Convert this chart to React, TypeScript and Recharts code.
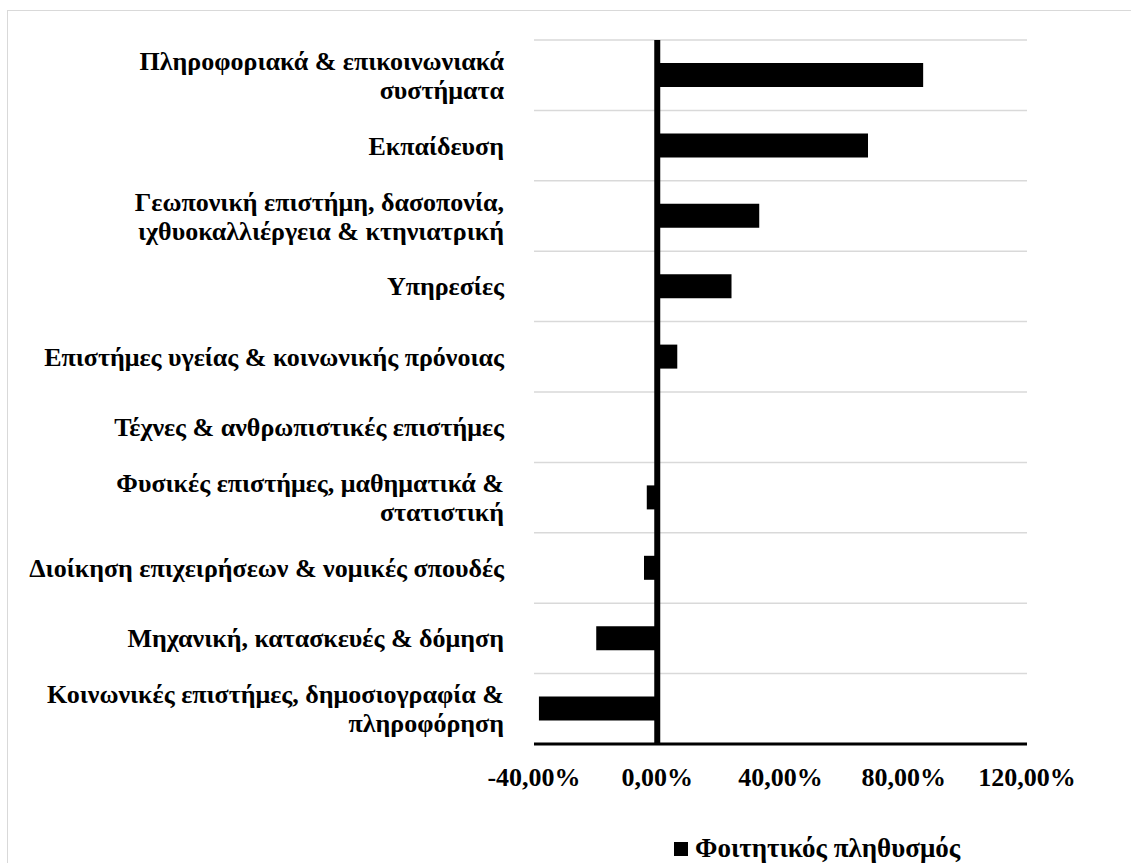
import { BarChart, Bar, XAxis, YAxis, CartesianGrid, ReferenceLine, Legend } from 'recharts';

// Fields of study (top to bottom), with the line breaks used in the chart
const fields = [
  'Πληροφοριακά & επικοινωνιακά\nσυστήματα',
  'Εκπαίδευση',
  'Γεωπονική επιστήμη, δασοπονία,\nιχθυοκαλλιέργεια & κτηνιατρική',
  'Υπηρεσίες',
  'Επιστήμες υγείας & κοινωνικής πρόνοιας',
  'Τέχνες & ανθρωπιστικές επιστήμες',
  'Φυσικές επιστήμες, μαθηματικά &\nστατιστική',
  'Διοίκηση επιχειρήσεων & νομικές σπουδές',
  'Μηχανική, κατασκευές & δόμηση',
  'Κοινωνικές επιστήμες, δημοσιογραφία &\nπληροφόρηση',
];

// Change in student population (%)
const studentChange = [86.3, 68.4, 33.1, 24.1, 6.5, 0, -3.4, -4.3, -19.8, -38.4];

const xTicks = [-40, 0, 40, 80, 120];

const seriesName = 'Φοιτητικός πληθυσμός';

const data = fields.map((field, i) => ({ field, value: studentChange[i] }));

const FONT = '"Liberation Serif", "Times New Roman", serif';

const fmtPct = (v: number) => v.toFixed(2).replace('.', ',') + '%';

const CategoryTick = ({ x, y, payload }: any) => {
  const lines = String(payload.value).split('\n');
  const lh = 29;
  const startY = y - ((lines.length - 1) * lh) / 2;
  return (
    <text
      x={x - 22}
      y={startY}
      textAnchor="end"
      dominantBaseline="central"
      fontFamily={FONT}
      fontWeight="bold"
      fontSize={26}
      fill="#000"
    >
      {lines.map((l, i) => (
        <tspan key={i} x={x - 22} dy={i === 0 ? 0 : lh}>
          {l}
        </tspan>
      ))}
    </text>
  );
};

const LegendContent = () => (
  <div style={{ display: 'flex', alignItems: 'center', fontFamily: FONT, fontWeight: 'bold', fontSize: 27, lineHeight: '31px' }}>
    <span style={{ display: 'inline-block', width: 14, height: 14, background: '#000', marginRight: 7 }} />
    <span>{seriesName}</span>
  </div>
);

export default function App() {
  return (
    <div style={{ position: 'fixed', left: 0, top: 0, width: 1131, height: 863, overflow: 'hidden', background: '#fff' }}>
      <div
        style={{
          position: 'absolute', left: 7, top: 10, width: 1300, height: 1000,
          border: '1px solid #d9d9d9', boxSizing: 'border-box',
        }}
      />
      <BarChart
        width={1131}
        height={863}
        data={data}
        layout="vertical"
        barSize={24}
        margin={{ top: 40, right: 104, bottom: 58, left: 8 }}
        style={{ position: 'absolute', left: 0, top: 0 }}
      >
        <CartesianGrid
          vertical={false}
          stroke="#d9d9d9"
          strokeWidth={1.5}
          horizontalCoordinatesGenerator={({ offset }: any) =>
            fields.map((_, i) => offset.top + (i * offset.height) / fields.length).concat(offset.top + offset.height)
          }
        />
        <XAxis
          type="number"
          domain={[-40, 120]}
          ticks={xTicks}
          tickFormatter={fmtPct}
          axisLine={{ stroke: '#000', strokeWidth: 3 }}
          tickLine={false}
          tick={{ fontFamily: FONT, fontWeight: 'bold', fontSize: 26, fill: '#000' }}
          tickMargin={18}
          interval={0}
        />
        <YAxis
          type="category"
          dataKey="field"
          width={526}
          axisLine={false}
          tickLine={false}
          tick={<CategoryTick />}
          interval={0}
        />
        <Bar dataKey="value" name={seriesName} fill="#000" isAnimationActive={false} />
        <ReferenceLine x={0} stroke="#000" strokeWidth={6} />
        <Legend
          content={<LegendContent />}
          wrapperStyle={{ position: 'absolute', left: 674, top: 833, width: 'auto' }}
        />
      </BarChart>
    </div>
  );
}
